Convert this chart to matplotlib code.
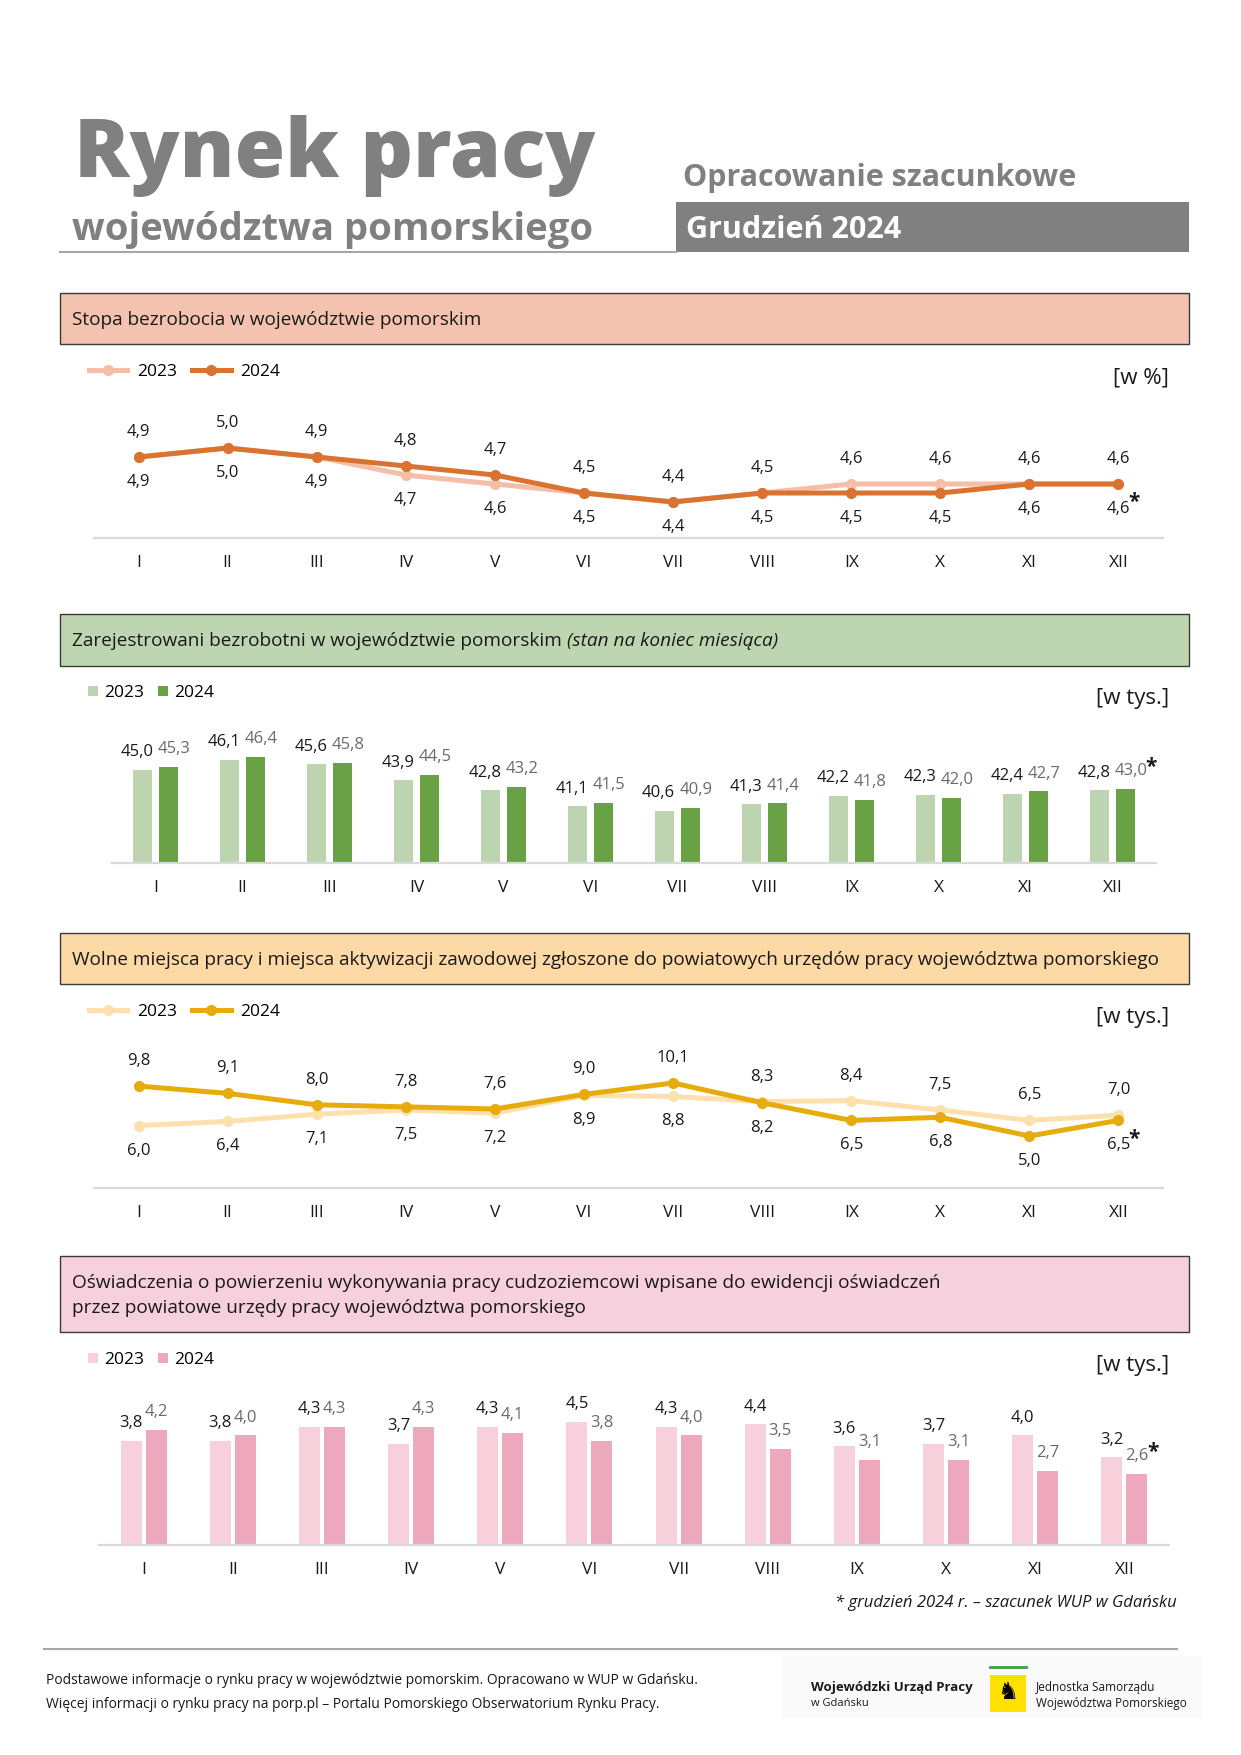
import matplotlib
matplotlib.use("Agg")
import matplotlib.pyplot as plt
from matplotlib.patches import Rectangle
from matplotlib.lines import Line2D
import numpy as np

plt.rcParams['font.family'] = ['Open Sans', 'DejaVu Sans']

# ---- data ----
months = ['I', 'II', 'III', 'IV', 'V', 'VI', 'VII', 'VIII', 'IX', 'X', 'XI', 'XII']
years = ['2023', '2024']

stopa_2023 = [4.9, 5.0, 4.9, 4.7, 4.6, 4.5, 4.4, 4.5, 4.6, 4.6, 4.6, 4.6]
stopa_2024 = [4.9, 5.0, 4.9, 4.8, 4.7, 4.5, 4.4, 4.5, 4.5, 4.5, 4.6, 4.6]

bezrob_2023 = [45.0, 46.1, 45.6, 43.9, 42.8, 41.1, 40.6, 41.3, 42.2, 42.3, 42.4, 42.8]
bezrob_2024 = [45.3, 46.4, 45.8, 44.5, 43.2, 41.5, 40.9, 41.4, 41.8, 42.0, 42.7, 43.0]

oferty_2023 = [6.0, 6.4, 7.1, 7.5, 7.2, 8.9, 8.8, 8.3, 8.4, 7.5, 6.5, 7.0]
oferty_2024 = [9.8, 9.1, 8.0, 7.8, 7.6, 9.0, 10.1, 8.2, 6.5, 6.8, 5.0, 6.5]

oswiad_2023 = [3.8, 3.8, 4.3, 3.7, 4.3, 4.5, 4.3, 4.4, 3.6, 3.7, 4.0, 3.2]
oswiad_2024 = [4.2, 4.0, 4.3, 4.3, 4.1, 3.8, 4.0, 3.5, 3.1, 3.1, 2.7, 2.6]

W, H = 1241, 1755
GRAY = '#808080'
TXT = '#1a1a1a'
HEAD_FS = 13.7

fig = plt.figure(figsize=(W / 100, H / 100), dpi=100)


def fx(x):
    return x / W


def fy(y):
    return 1 - y / H


def axes_px(left, top, right, bottom):
    return fig.add_axes([fx(left), fy(bottom), (right - left) / W, (bottom - top) / H])


def fmt(v):
    return f'{v:.1f}'.replace('.', ',')


def header_box(top, bottom, color):
    fig.add_artist(Rectangle((fx(60), fy(bottom)), (1189 - 60) / W, (bottom - top) / H,
                             transform=fig.transFigure, facecolor=color,
                             edgecolor='#3a3a3a', linewidth=1))


def style_axes(ax):
    for s in ['top', 'left', 'right']:
        ax.spines[s].set_visible(False)
    ax.spines['bottom'].set_color('#d9d9d9')
    ax.spines['bottom'].set_linewidth(1.6)
    ax.set_yticks([])
    ax.set_xlim(-0.5, 11.5)
    ax.set_xticks(np.arange(12), months)
    ax.tick_params(axis='x', length=0, pad=12, labelsize=12.5, labelcolor=TXT)
    ax.patch.set_alpha(0)


def unit_label(y, text):
    fig.text(fx(1169), fy(y), text, ha='right', va='center', fontsize=16, color=TXT)


def line_section(ax, v23, v24, c23, c24, off, leg_y):
    x = np.arange(12)
    l23, = ax.plot(x, v23, color=c23, lw=3.6, marker='o', ms=7, label='2023', zorder=2)
    l24, = ax.plot(x, v24, color=c24, lw=3.6, marker='o', ms=7, label='2024', zorder=3)
    for i in x:
        a, b = v23[i], v24[i]
        up24 = b > a or (b == a and i < 10)
        top_v, bot_v = (b, a) if up24 else (a, b)
        ax.annotate(fmt(top_v), (i, top_v), xytext=(0, off), textcoords='offset points',
                    ha='center', va='center', fontsize=12, color=TXT)
        ax.annotate(fmt(bot_v), (i, bot_v), xytext=(0, -off), textcoords='offset points',
                    ha='center', va='center', fontsize=12, color=TXT)
        if i == 11:
            sy = off if up24 else -off
            ax.annotate('*', (i, b), xytext=(11.5, sy + 0.5), textcoords='offset points',
                        ha='center', va='baseline', fontsize=15, fontweight='bold', color=TXT)
    ax.legend(handles=[l23, l24], loc='center left', ncol=2, frameon=False,
              bbox_to_anchor=(fx(89), fy(leg_y)), bbox_transform=fig.transFigure,
              borderpad=0, borderaxespad=0, handlelength=2.2, handletextpad=0.55,
              columnspacing=0.9, fontsize=12.5)
    style_axes(ax)


def bar_section(ax, v23, v24, c23, c24, w, d, dx, leg_y):
    x = np.arange(12)
    b23 = ax.bar(x - d, v23, width=w, color=c23, label='2023')
    b24 = ax.bar(x + d, v24, width=w, color=c24, label='2024')
    for i in x:
        ax.annotate(fmt(v23[i]), (i - d, v23[i]), xytext=(-dx, 7), textcoords='offset points',
                    ha='center', va='bottom', fontsize=12, color=TXT)
        ax.annotate(fmt(v24[i]), (i + d, v24[i]), xytext=(dx, 7), textcoords='offset points',
                    ha='center', va='bottom', fontsize=12, color='#6b6b6b')
    last = fmt(v24[11])
    ax.annotate('*', (11 + d, v24[11]), xytext=(dx + 3.2 * len(last) + 1.7, 11.5),
                textcoords='offset points', ha='center', va='baseline', fontsize=15,
                fontweight='bold', color=TXT)
    ax.legend(handles=[b23, b24], loc='center left', ncol=2, frameon=False,
              bbox_to_anchor=(fx(88), fy(leg_y)), bbox_transform=fig.transFigure,
              borderpad=0, borderaxespad=0, handlelength=0.55, handleheight=0.55,
              handletextpad=0.35, columnspacing=0.85, fontsize=12.5)
    style_axes(ax)


# ---- page header ----
fig.text(fx(74), fy(177), 'Rynek pracy', ha='left', va='baseline', fontsize=59,
         fontweight='heavy', color=GRAY)
fig.text(fx(72), fy(240), 'województwa pomorskiego', ha='left', va='baseline', fontsize=27.5,
         fontweight='bold', color=GRAY)
fig.add_artist(Line2D([fx(60), fx(676)], [fy(252), fy(252)], color='#a6a6a6', lw=1.5))
fig.text(fx(683), fy(186), 'Opracowanie szacunkowe', ha='left', va='baseline', fontsize=22,
         fontweight='bold', color=GRAY)
fig.add_artist(Rectangle((fx(676), fy(252)), (1189 - 676) / W, 50 / H,
                         transform=fig.transFigure, facecolor=GRAY, edgecolor='none'))
fig.text(fx(686), fy(238), 'Grudzień 2024', ha='left', va='baseline', fontsize=22,
         fontweight='bold', color='white')

# ---- section 1: stopa bezrobocia ----
header_box(293, 344, '#f4c3b0')
fig.text(fx(72), fy(320), 'Stopa bezrobocia w województwie pomorskim', ha='left',
         va='center', fontsize=HEAD_FS, color=TXT)
ax1 = axes_px(94, 398, 1163, 538)
ax1.set_ylim(4.0, 4.0 + 140 / 90)
line_section(ax1, stopa_2023, stopa_2024, '#f4bea8', '#d9732f', 18, 372)
unit_label(378, '[w %]')

# ---- section 2: zarejestrowani bezrobotni ----
header_box(614, 666, '#bdd6b1')
t2 = fig.text(fx(72), fy(641), 'Zarejestrowani bezrobotni w województwie pomorskim',
              ha='left', va='center', fontsize=HEAD_FS, color=TXT)
renderer = fig.canvas.get_renderer()
t2_right = t2.get_window_extent(renderer=renderer).x1
fig.text((t2_right + 5) / W, fy(641), '(stan na koniec miesiąca)', ha='left', va='center',
         fontsize=HEAD_FS, style='italic', color=TXT)
ax2 = axes_px(112, 733, 1156, 863)
ax2.set_ylim(35, 35 + 130 / 9.3)
bar_section(ax2, bezrob_2023, bezrob_2024, '#bcd5b0', '#68a244', 0.22, 0.145, 4.5, 693)
unit_label(699, '[w tys.]')

# ---- section 3: wolne miejsca pracy ----
header_box(933, 984, '#fdd9a6')
fig.text(fx(72), fy(960), 'Wolne miejsca pracy i miejsca aktywizacji zawodowej zgłoszone do '
         'powiatowych urzędów pracy województwa pomorskiego', ha='left', va='center',
         fontsize=HEAD_FS, color=TXT)
ax3 = axes_px(94, 1040, 1163, 1188)
ax3.set_ylim(0, 148 / 10.4)
line_section(ax3, oferty_2023, oferty_2024, '#fde0ad', '#e6ac0c', 18, 1012)
unit_label(1017, '[w tys.]')

# ---- section 4: oświadczenia ----
header_box(1256, 1332, '#f6d0dc')
fig.text(fx(72), fy(1283), 'Oświadczenia o powierzeniu wykonywania pracy cudzoziemcowi wpisane '
         'do ewidencji oświadczeń', ha='left', va='center', fontsize=HEAD_FS, color=TXT)
fig.text(fx(72), fy(1308), 'przez powiatowe urzędy pracy województwa pomorskiego', ha='left',
         va='center', fontsize=HEAD_FS, color=TXT)
ax4 = axes_px(99, 1395, 1169, 1545)
ax4.set_ylim(0, 150 / 27.4)
bar_section(ax4, oswiad_2023, oswiad_2024, '#f7d0dc', '#eea8bd', 0.235, 0.14, 0, 1360)
unit_label(1365, '[w tys.]')

# ---- footer ----
fig.text(fx(1177), fy(1603), '* grudzień 2024 r. – szacunek WUP w Gdańsku', ha='right',
         va='center', fontsize=12, style='italic', color=TXT)
fig.add_artist(Line2D([fx(44), fx(1177)], [fy(1649), fy(1649)], color='#a6a6a6', lw=1.5))
fig.text(fx(46), fy(1681), 'Podstawowe informacje o rynku pracy w województwie pomorskim. '
         'Opracowano w WUP w Gdańsku.', ha='left', va='center', fontsize=10, color=TXT)
fig.text(fx(46), fy(1704), 'Więcej informacji o rynku pracy na porp.pl – Portalu Pomorskiego '
         'Obserwatorium Rynku Pracy.', ha='left', va='center', fontsize=10, color=TXT)
fig.add_artist(Rectangle((fx(783), fy(1718)), (1201 - 783) / W, 61 / H,
                         transform=fig.transFigure, facecolor='#fafafa', edgecolor='none'))
fig.text(fx(811), fy(1688), 'Wojewódzki Urząd Pracy', ha='left', va='center', fontsize=9.5,
         fontweight='bold', color=TXT)
fig.text(fx(811), fy(1704), 'w Gdańsku', ha='left', va='center', fontsize=8, color=TXT)
fig.add_artist(Line2D([fx(990), fx(1026)], [fy(1667), fy(1667)], color='#3aa14a', lw=2))
fig.add_artist(Rectangle((fx(990), fy(1712)), 36 / W, 37 / H,
                         transform=fig.transFigure, facecolor='#ffe000', edgecolor='none'))
fig.text(fx(1008), fy(1693), '♞', ha='center', va='center', fontsize=17, color='black')
fig.text(fx(1036), fy(1688), 'Jednostka Samorządu', ha='left', va='center', fontsize=8.5,
         color=TXT)
fig.text(fx(1036), fy(1704), 'Województwa Pomorskiego', ha='left', va='center', fontsize=8.5,
         color=TXT)

fig.savefig('out.png', dpi=100)
